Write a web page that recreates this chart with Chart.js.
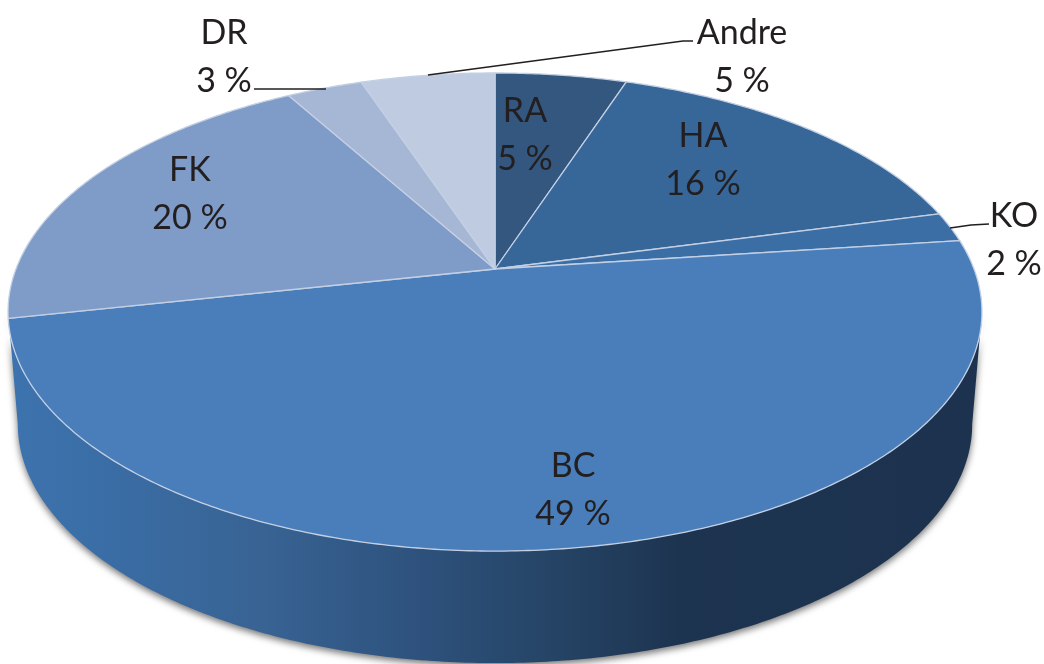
<!DOCTYPE html>
<html><head><meta charset="utf-8">
<style>html,body{margin:0;padding:0;background:#fff;overflow:hidden}canvas{display:block}</style>
<script src="https://cdn.jsdelivr.net/npm/chart.js@4/dist/chart.umd.js"></script>
</head><body><canvas id="c" width="1044" height="664"></canvas>
<script>
const categories = ["RA","HA","KO","BC","FK","DR","Andre"];
const shares = [5.2,15.8,2,48.7,20,3,5.3];
const sliceColors = ["#34577f","#376699","#3c6ea6","#4a7ebb","#7f9bc8","#a6b6d5","#bfcbe1"];
const labelSpots = [[525,111],[703,136],[1014,216],[573,466],[190,170],[224,33],[742,33]];
const leaderLines = {2:[[950,228],[971,225],[989,224]],5:[[254,89],[326,89]],6:[[428,75],[683,41],[693,41]]};

// perspective view of the pie disc
const view = {cx:495, cy:269, A:479, B:231.3, k:0.18, depth:112, shrink:0.98};
function project(a, dy, s){
  const u=Math.cos(a), v=Math.sin(a), d=1-view.k*v;
  return [view.cx+(s||1)*view.A*u/d, view.cy+(dy||0)+view.B*v/d];
}
function tracePoints(ctx,a0,a1,dy,s,first){
  const n=Math.max(2,Math.ceil(Math.abs(a1-a0)/0.01));
  for(let i=0;i<=n;i++){
    const p=project(a0+(a1-a0)*i/n,dy,s);
    (i===0&&first)?ctx.moveTo(p[0],p[1]):ctx.lineTo(p[0],p[1]);
  }
}
Chart.ArcElement.prototype.draw=function(ctx){
  const o=this.options;
  ctx.save();
  ctx.beginPath();
  ctx.moveTo(view.cx,view.cy);
  tracePoints(ctx,this.startAngle,this.endAngle,0,1,false);
  ctx.closePath();
  ctx.fillStyle=o.backgroundColor;
  ctx.fill();
  ctx.lineJoin="round";
  ctx.lineWidth=1.3;
  ctx.strokeStyle="#c3d0e4";
  ctx.stroke();
  ctx.restore();
};
const wallPlugin={id:"wall",beforeDatasetsDraw(chart){
  const ctx=chart.ctx, arcs=chart.getDatasetMeta(0).data;
  const g=ctx.createLinearGradient(10,0,980,0);
  [[0,"#3d73ae"],[0.1,"#3a6da5"],[0.26,"#386393"],[0.4,"#2f5480"],[0.55,"#264567"],[0.69,"#1d3450"],[1,"#1c324f"]].forEach(s=>g.addColorStop(s[0],s[1]));
  const aR=Math.asin(view.k), aL=Math.PI-aR;
  ctx.save();
  ctx.shadowColor="rgba(70,70,70,0.75)";ctx.shadowBlur=7;ctx.shadowOffsetY=3;
  ctx.fillStyle=g;
  // the visible wall runs between the two silhouette angles of the disc
  ctx.beginPath();
  let started=false;
  const spans=arcs.map(el=>[Math.max(el.startAngle,aR),Math.min(el.endAngle,aL)]).filter(s=>s[1]>s[0]);
  const a0=Math.min(...spans.map(s=>s[0])), a1=aL;
  tracePoints(ctx,a0,a1,0,1,true);
  tracePoints(ctx,a1,a0,view.depth,view.shrink,false);
  ctx.closePath();
  ctx.fill();
  ctx.restore();
}};
const labelPlugin={id:"labels",afterDatasetsDraw(chart){
  const ctx=chart.ctx;
  ctx.save();
  ctx.strokeStyle="#231f20";ctx.lineWidth=1.6;
  Object.values(leaderLines).forEach(l=>{
    ctx.beginPath();l.forEach((p,i)=>i?ctx.lineTo(p[0],p[1]):ctx.moveTo(p[0],p[1]));ctx.stroke();
  });
  ctx.fillStyle="#231f20";ctx.font='34px Lato';ctx.textAlign="center";ctx.textBaseline="middle";
  categories.forEach((c,i)=>{
    const p=labelSpots[i];
    ctx.fillText(c,p[0],p[1]);
    ctx.fillText(Math.round(shares[i])+" %",p[0],p[1]+48);
  });
  ctx.restore();
}};
new Chart(document.getElementById("c"),{
  type:"pie",
  data:{labels:categories,datasets:[{data:shares,backgroundColor:sliceColors}]},
  options:{responsive:false,animation:false,
    plugins:{legend:{display:false},tooltip:{enabled:false}}},
  plugins:[wallPlugin,labelPlugin]
});
</script></body></html>
